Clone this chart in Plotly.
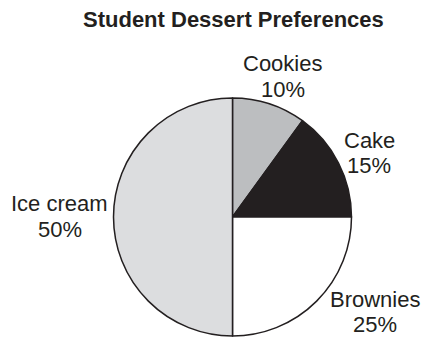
import plotly.graph_objects as go

# Dessert survey results (percent of students)
desserts = ["Cookies", "Cake", "Brownies", "Ice cream"]
shares = [10, 15, 25, 50]
slice_colors = ["#bcbec0", "#231f20", "#ffffff", "#dcdddf"]

W, H = 422, 338
ink = "#231f20"
FONT = "Liberation Sans, Arial, Helvetica, sans-serif"

# Pie placement in pixels (left, right, top, bottom)
px_left, px_right, px_top, px_bottom = 113, 352, 98, 336

fig = go.Figure(
    go.Pie(
        labels=desserts,
        values=shares,
        sort=False,
        direction="clockwise",
        rotation=0,
        marker=dict(colors=slice_colors, line=dict(color=ink, width=1.5)),
        textinfo="none",
        hoverinfo="skip",
        showlegend=False,
        domain=dict(
            x=[px_left / W, px_right / W],
            y=[1 - px_bottom / H, 1 - px_top / H],
        ),
    )
)

# Label anchor in pixels: (x centre, name line centre, percent line centre)
label_pos = {
    "Cookies": (282.5, 63.5, 89.5),
    "Cake": (369, 140, 165.5),
    "Brownies": (375, 299.5, 324.5),
    "Ice cream": (59.5, 203, 229),
}


def put_text(x, y, text, size=22):
    fig.add_annotation(
        x=x / W,
        y=1 - y / H,
        xref="paper",
        yref="paper",
        text=text,
        showarrow=False,
        xanchor="center",
        yanchor="middle",
        align="center",
        font=dict(family=FONT, size=size, color=ink),
    )


for name, val in zip(desserts, shares):
    x, y_name, y_pct = label_pos[name]
    put_text(x, y_name, name)
    put_text(x, y_pct, f"{val}%")

put_text(233.5, 20, "<b>Student Dessert Preferences</b>", size=22)

fig.update_layout(
    width=W,
    height=H,
    margin=dict(l=0, r=0, t=0, b=0),
    paper_bgcolor="white",
    plot_bgcolor="white",
)

fig.write_html("out.html")
